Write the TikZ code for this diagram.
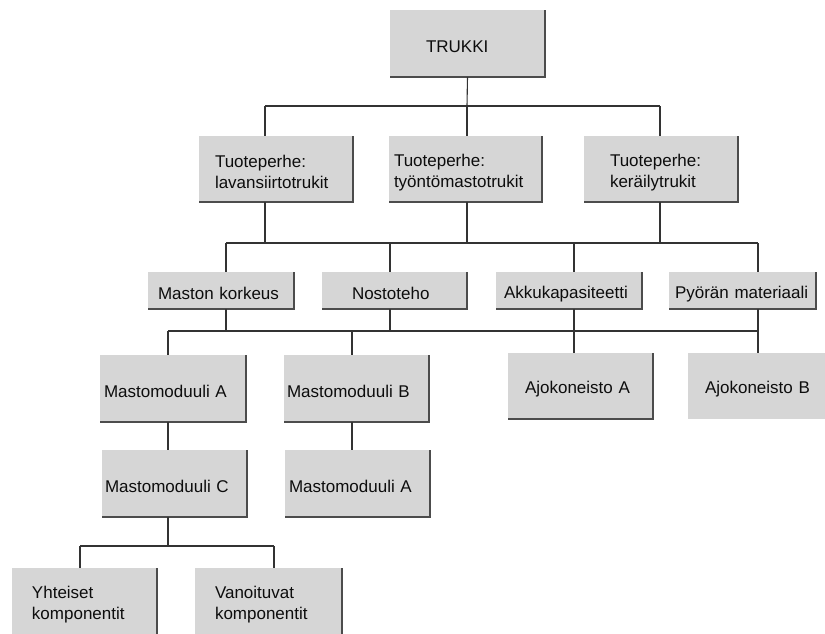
\documentclass[tikz,border=0pt]{standalone}
\usepackage{fontspec}
\setmainfont{Liberation Sans}
\begin{document}
\begin{tikzpicture}[x=1pt,y=-1pt,
  box/.style={rectangle, fill=boxgray, draw=none, inner ysep=0pt, inner xsep=0pt,
    outer sep=0pt, align=left,
    font=\fontsize{17}{21}\selectfont, text=black!95},
  wire/.style={draw=black!80, line width=1.1pt},
  edge/.style={draw=black!70, line width=1.8pt}]
\definecolor{boxgray}{HTML}{D6D6D6}
\useasboundingbox (0,0) rectangle (825,633);

% a box given by its left/right/top/bottom edges and the left padding of its text;
% the strut lowers the text a little below the middle of the box
\def\mkbox#1#2#3#4#5#6#7{%
  \node[box, anchor=north west, minimum width={#3-#2}, minimum height={#5-#4},
        text width={#3-#2}]
        (#1) at (#2,#4) {\rule{0pt}{19pt}\hspace*{#6pt}#7};}

\mkbox{trukki}{390}{545}{10}{77}{36}{TRUKKI}
\mkbox{tp1}{199}{353}{136}{202}{16}{Tuoteperhe:\\\hspace*{16pt}lavansiirtotrukit}
\mkbox{tp2}{389}{542}{136}{202}{5}{Tuoteperhe:\\\hspace*{5pt}työntömastotrukit}
\mkbox{tp3}{584}{738}{136}{202}{26}{Tuoteperhe:\\\hspace*{26pt}keräilytrukit}

\mkbox{mk}{148}{294}{272}{309}{10}{Maston korkeus}
\mkbox{nt}{322}{467}{272}{309}{30}{Nostoteho}
\mkbox{ak}{496}{642}{272}{309}{8}{Akkukapasiteetti}
\mkbox{pm}{669}{816}{272}{309}{6}{Pyörän materiaali}

\mkbox{ma1}{100}{246}{355}{422}{4}{Mastomoduuli A}
\mkbox{mb}{284}{429}{355}{422}{3}{Mastomoduuli B}
\mkbox{aa}{508}{653}{353}{419}{17}{Ajokoneisto A}
\mkbox{ab}{688}{825}{353}{419}{17}{Ajokoneisto B}

\mkbox{mc}{102}{247}{450}{517}{3}{Mastomoduuli C}
\mkbox{ma2}{285}{430}{450}{517}{4}{Mastomoduuli A}

\mkbox{yk}{12}{157}{568}{635}{20}{Yhteiset\\\hspace*{20pt}komponentit}
\mkbox{vk}{195}{342}{568}{635}{20}{Vanoituvat\\\hspace*{20pt}komponentit}

% dark right and bottom edges of the boxes
\foreach \n in {trukki,tp1,tp2,tp3,mk,nt,ak,pm,ma1,mb,aa,mc,ma2}
  \draw[edge] (\n.north east) -- (\n.south east) -- (\n.south west);
\draw[edge] (yk.north east) -- (yk.south east);
\draw[edge] (vk.north east) -- (vk.south east);

% bus joints
\coordinate (a1) at (265,106);
\coordinate (a2) at (467,106);
\coordinate (a3) at (660,106);

\coordinate (b1) at (265,243);
\coordinate (b2) at (467,243);
\coordinate (b3) at (660,243);
\coordinate (c1) at (226,243);
\coordinate (c2) at (390,243);
\coordinate (c3) at (574,243);
\coordinate (c4) at (758,243);

\coordinate (d1) at (226,331);
\coordinate (d2) at (390,331);
\coordinate (d3) at (574,331);
\coordinate (d4) at (758,331);
\coordinate (e1) at (168,331);
\coordinate (e2) at (352,331);

\coordinate (f1) at (168,546);
\coordinate (g1) at (80,546);
\coordinate (g2) at (274,546);

% TRUKKI to product families
\draw[wire] (trukki.south) -- (a2);
\draw[wire] (a1) -- (a3);
\draw[wire] (a1) -- (a1 |- tp1.north);
\draw[wire] (a2) -- (a2 |- tp2.north);
\draw[wire] (a3) -- (a3 |- tp3.north);

% product families to properties
\draw[wire] (b1 |- tp1.south) -- (b1);
\draw[wire] (b2 |- tp2.south) -- (b2);
\draw[wire] (b3 |- tp3.south) -- (b3);
\draw[wire] (c1) -- (c4);
\draw[wire] (c1) -- (c1 |- mk.north);
\draw[wire] (c2) -- (c2 |- nt.north);
\draw[wire] (c3) -- (c3 |- ak.north);
\draw[wire] (c4) -- (c4 |- pm.north);

% properties to modules
\draw[wire] (d1 |- mk.south) -- (d1);
\draw[wire] (d2 |- nt.south) -- (d2);
\draw[wire] (d3 |- ak.south) -- (d3 |- aa.north);
\draw[wire] (d4 |- pm.south) -- (d4 |- ab.north);
\draw[wire] (e1) -- (d4);
\draw[wire] (e1) -- (e1 |- ma1.north);
\draw[wire] (e2) -- (e2 |- mb.north);

% module chains
\draw[wire] (e1 |- ma1.south) -- (e1 |- mc.north);
\draw[wire] (e2 |- mb.south) -- (e2 |- ma2.north);
\draw[wire] (f1 |- mc.south) -- (f1);
\draw[wire] (g1) -- (g2);
\draw[wire] (g1) -- (g1 |- yk.north);
\draw[wire] (g2) -- (g2 |- vk.north);
\end{tikzpicture}
\end{document}
